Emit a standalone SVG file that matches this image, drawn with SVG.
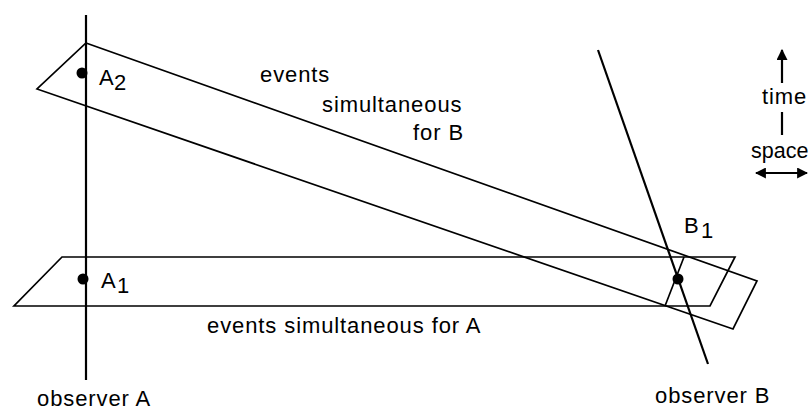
<svg xmlns="http://www.w3.org/2000/svg" width="811" height="411" viewBox="0 0 811 411">
<defs>
<style>
.ln{stroke:#000;stroke-width:1.7;fill:none}
.ax{stroke:#000;stroke-width:2.2;fill:none}
.t{font-family:"Liberation Sans",Arial,sans-serif;font-size:22px;letter-spacing:0.9px;fill:#000}
.dot{fill:#000}
</style>
<marker id="ah" viewBox="0 0 10 10" refX="9" refY="5" markerWidth="5" markerHeight="5" orient="auto-start-reverse" markerUnits="strokeWidth">
<path d="M0,0 L10,5 L0,10 z" fill="#000"/>
</marker>
</defs>
<rect width="811" height="411" fill="#fff"/>
<g id="connectors">
<line id="observerA" class="ax" x1="86" y1="15" x2="86" y2="380"/>
<line id="observerB" class="ax" x1="598" y1="50" x2="708" y2="364"/>
<polygon id="stripB" class="ln" points="86,43 757,281 733,329 37,89"/>
<polygon id="stripA" class="ln" points="62,257 735,257 710,306 14,306"/>
<line class="ln" x1="684" y1="257" x2="665" y2="306"/>
</g>
<g id="A2">
<circle class="dot" cx="82" cy="73" r="5.5"/>
<text class="t" x="99" y="85">A</text>
<text class="t" x="114" y="90">2</text>
</g>
<g id="A1">
<circle class="dot" cx="83" cy="279" r="5.5"/>
<text class="t" x="101" y="288">A</text>
<text class="t" x="117" y="293">1</text>
</g>
<g id="B1">
<circle class="dot" cx="678" cy="279" r="5.5"/>
<text class="t" x="684" y="233">B</text>
<text class="t" x="701" y="238">1</text>
</g>
<g id="labelB">
<text class="t" x="260" y="82">events</text>
<text class="t" x="322" y="112">simultaneous</text>
<text class="t" x="413" y="140">for B</text>
</g>
<g id="labelA">
<text class="t" x="207" y="333">events simultaneous for A</text>
</g>
<g id="obsA"><text class="t" x="37" y="406">observer A</text></g>
<g id="obsB"><text class="t" x="655" y="403">observer B</text></g>
<g id="legend">
<line class="ax" x1="782" y1="83" x2="782" y2="50" marker-end="url(#ah)"/>
<text class="t" x="762" y="104">time</text>
<line class="ax" x1="782" y1="112" x2="782" y2="135"/>
<text class="t" x="751" y="158" style="letter-spacing:0;font-size:21.5px">space</text>
<line class="ax" x1="756" y1="173" x2="807" y2="173" marker-start="url(#ah)" marker-end="url(#ah)"/>
</g>
</svg>
